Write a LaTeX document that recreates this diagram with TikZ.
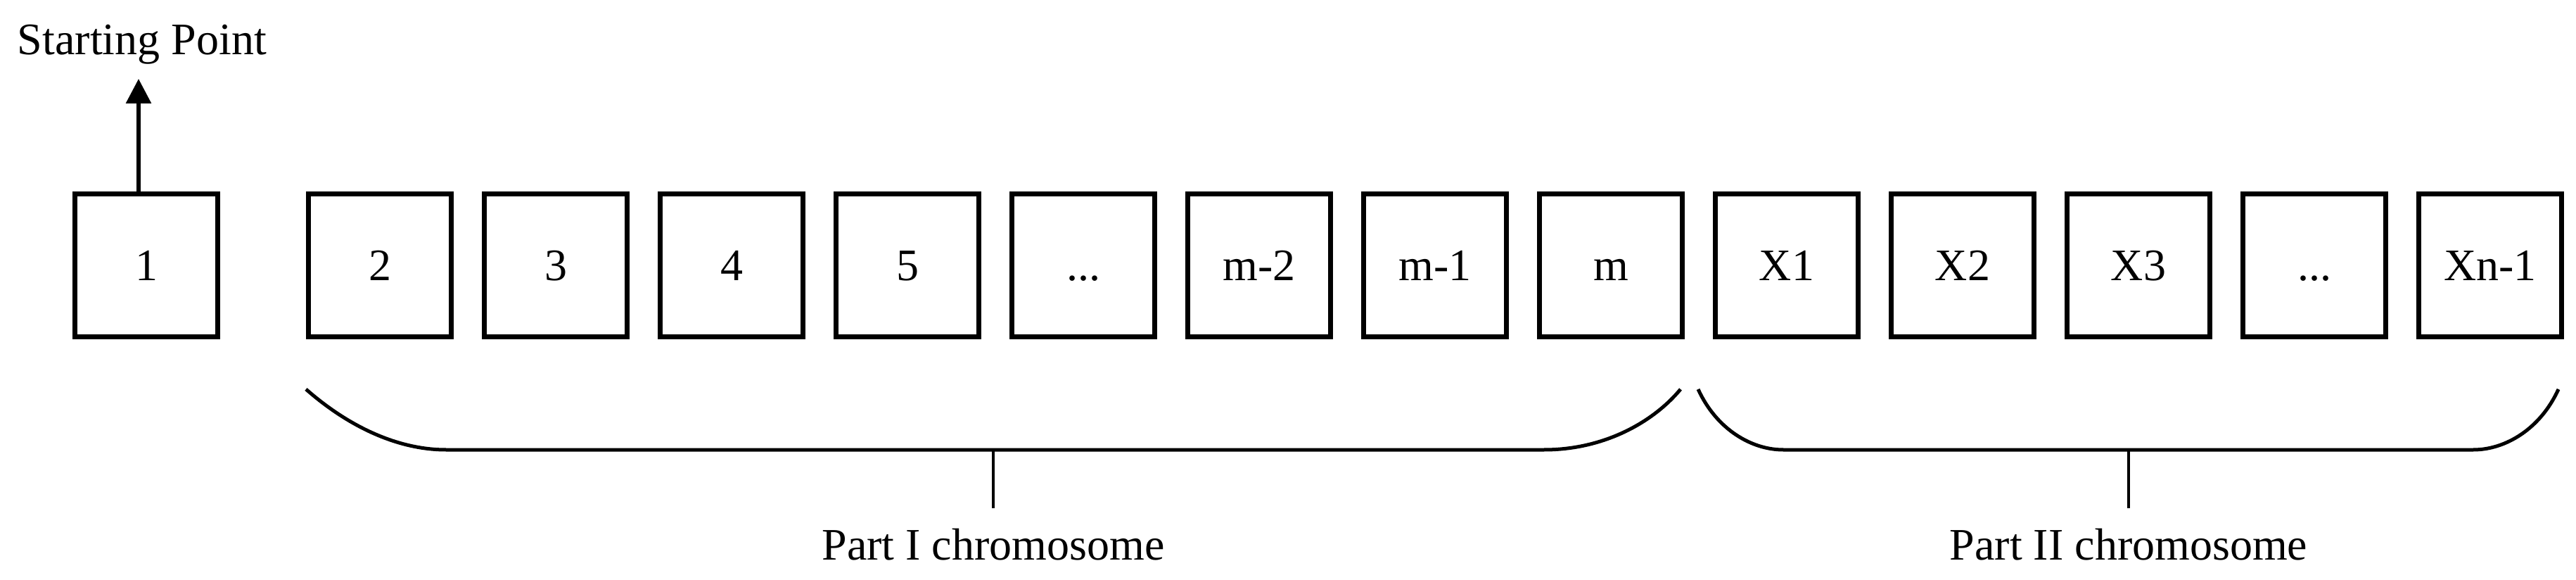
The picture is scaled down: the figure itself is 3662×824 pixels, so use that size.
\documentclass[tikz,border=0pt]{standalone}
\usepackage{fontspec}
\setmainfont{Liberation Serif}
\usetikzlibrary{arrows.meta}
\begin{document}
\begin{tikzpicture}[x=0.2pt,y=-0.2pt,
  gene/.style={draw,line width=1.4pt,minimum size=40.6pt,inner sep=0pt,text height=8.7pt,text depth=0pt,font=\fontsize{12.8}{14}\selectfont},
  lbl/.style={inner sep=0pt,anchor=base,font=\fontsize{12.8}{14}\selectfont},
  brace/.style={line width=1pt},
  stem/.style={line width=0.85pt}]
\useasboundingbox (0,0) rectangle (3662,824);
\node[gene] (g1) at (208,377) {1};
\node[gene] (b0) at (540,377) {2};
\node[gene] (b1) at (790,377) {3};
\node[gene] (b2) at (1040,377) {4};
\node[gene] (b3) at (1290,377) {5};
\node[gene] (b4) at (1540,377) {...};
\node[gene] (b5) at (1790,377) {m-2};
\node[gene] (b6) at (2040,377) {m-1};
\node[gene] (b7) at (2290,377) {m};
\node[gene] (b8) at (2540,377) {X1};
\node[gene] (b9) at (2790,377) {X2};
\node[gene] (b10) at (3040,377) {X3};
\node[gene] (b11) at (3290,377) {...};
\node[gene] (b12) at (3540,377) {Xn-1};
\node[lbl,anchor=base west] (sp) at (24,78) {Starting Point};
\coordinate (tip) at (197,112);
\draw[line width=1.2pt,-{Triangle[width=7pt,length=7pt]}] (g1.north -| tip) -- (tip);
% brace 1
\draw[brace] (435,553) .. controls (500,610) and (570,639) .. (634,639) -- (2195,639)
  .. controls (2280,639) and (2350,600) .. (2389,553);
\coordinate (s1) at (1412,639);
\coordinate (e1) at (1412,722);
\draw[stem] (s1) -- (e1);
\node[lbl] (p1) at (1412,795) {Part I chromosome};
% brace 2
\draw[brace] (2414,553) .. controls (2440,610) and (2490,639) .. (2535,639) -- (3516,639)
  .. controls (3561,639) and (3611,610) .. (3637,553);
\coordinate (s2) at (3026,639);
\coordinate (e2) at (3026,722);
\draw[stem] (s2) -- (e2);
\node[lbl] (p2) at (3026,795) {Part II chromosome};
\end{tikzpicture}
\end{document}
